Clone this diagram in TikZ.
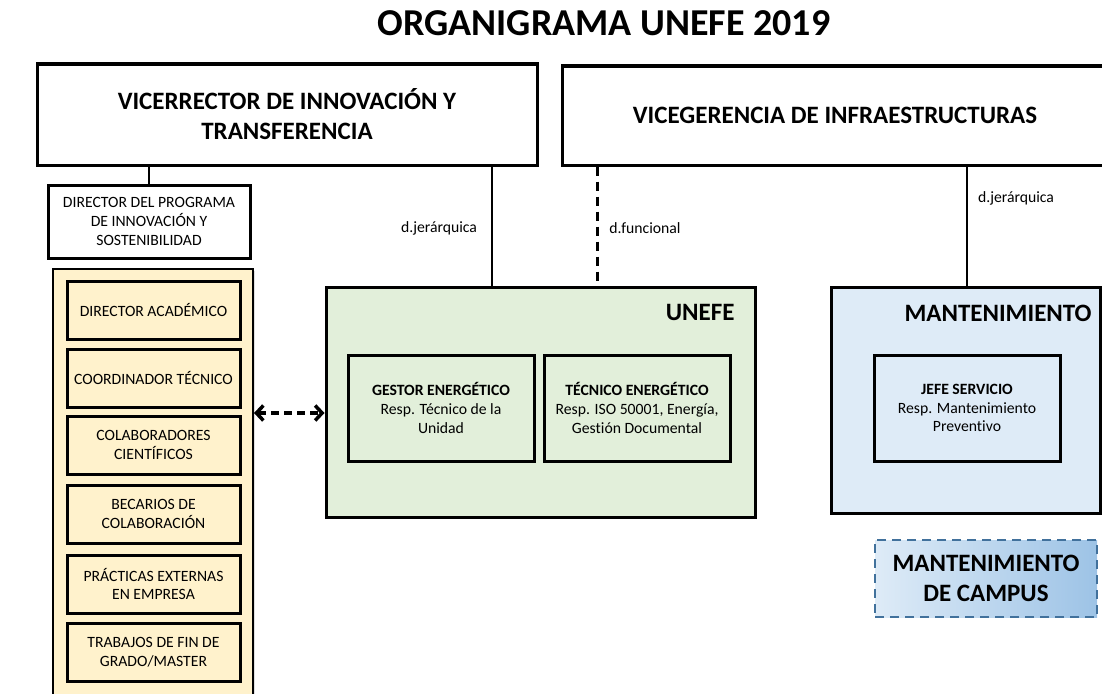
\documentclass[tikz,border=0pt]{standalone}
\usepackage{fontspec}
\setmainfont{Carlito}[Ligatures=NoCommon]
\usetikzlibrary{arrows.meta,shadows}
\definecolor{amarillo}{HTML}{FFF2CC}
\definecolor{verde}{HTML}{E2EFDA}
\definecolor{azul}{HTML}{DEEBF7}
\definecolor{azulosc}{HTML}{9DC3E6}
\definecolor{borde}{HTML}{41719C}
\tikzset{
  caja/.style={draw, line width=3pt, fill=white, align=center, inner sep=2pt,
    drop shadow={opacity=0.25, shadow xshift=2pt, shadow yshift=-2pt}},
  grande/.style={font=\fontsize{25}{30}\selectfont\bfseries},
  chica/.style={font=\fontsize{15.7}{18.8}\selectfont},
  cabecera/.style={caja, grande},
  puesto/.style={caja, chica, fill=amarillo, minimum width=173pt, minimum height=58pt},
  cargo/.style={caja, chica, minimum width=186pt, minimum height=106pt},
  linea/.style={line width=2.3pt},
  funcional/.style={line width=3pt, dash pattern=on 9pt off 6pt}
}
\begin{document}
\begin{tikzpicture}[x=1pt,y=-1pt]
\useasboundingbox (0,0) rectangle (1102,693);
\clip (0,0) rectangle (1102,693);
\node[font=\fontsize{38}{44}\selectfont\bfseries] (titulo) at (604,23) {ORGANIGRAMA UNEFE 2019};
\node[cabecera, minimum width=500pt, minimum height=101pt] (vic) at (287,114.5) {VICERRECTOR DE INNOVACIÓN Y\\TRANSFERENCIA};
\node[cabecera, minimum width=546pt, minimum height=99pt] (vge) at (835,115.5) {VICEGERENCIA DE INFRAESTRUCTURAS};
\node[caja, chica, minimum width=202pt, minimum height=73pt] (dir) at (149,221.5) {DIRECTOR DEL PROGRAMA\\DE INNOVACIÓN Y\\SOSTENIBILIDAD};
% grupo de colaboradores
\node[caja, fill=amarillo, line width=2pt, minimum width=200pt, minimum height=436pt] (grupo) at (153,487) {};
\node[puesto] (acad) at (153.5,310) {DIRECTOR ACADÉMICO};
\node[puesto] (coord) at (153.5,378) {COORDINADOR TÉCNICO};
\node[puesto] (colab) at (153.5,445) {COLABORADORES\\CIENTÍFICOS};
\node[puesto] (becas) at (153.5,514) {BECARIOS DE\\COLABORACIÓN};
\node[puesto] (pract) at (153.5,584) {PRÁCTICAS EXTERNAS\\EN EMPRESA};
\node[puesto] (tfg) at (153.5,652) {TRABAJOS DE FIN DE\\GRADO/MASTER};
% unidades
\node[caja, fill=verde, minimum width=429pt, minimum height=230pt] (unefe) at (540.5,402) {};
\node[grande, anchor=east] (unefet) at (738,312) {UNEFE};
\node[cargo, fill=verde] (gestor) at (441,408) {\textbf{GESTOR ENERGÉTICO}\\Resp. Técnico de la\\Unidad};
\node[cargo, fill=verde] (tecnico) at (637,408) {\textbf{TÉCNICO ENERGÉTICO}\\Resp. ISO 50001, Energía,\\Gestión Documental};
\node[caja, fill=azul, minimum width=269pt, minimum height=226pt] (mant) at (965.5,400) {};
\node[grande] (mantt) at (998,313) {MANTENIMIENTO};
\node[cargo, fill=azul] (jefe) at (967,408) {\textbf{JEFE SERVICIO}\\Resp. Mantenimiento\\Preventivo};
\node[grande, draw=borde, line width=2.5pt, dash pattern=on 9pt off 6pt, left color=azul, right color=azulosc,
  align=center, minimum width=222pt, minimum height=77pt] (campus) at (986,578.5) {MANTENIMIENTO\\DE CAMPUS};
% dependencias
\coordinate (cj) at (492,250);
\coordinate (cf) at (597,250);
\coordinate (flecha) at (290,413);
\draw[linea] (vic.south -| dir.north) -- (dir.north);
\draw[linea] (vic.south -| cj) -- (unefe.north -| cj);
\draw[funcional] (vge.south -| cf) -- (unefe.north -| cf);
\draw[linea] (vge.south -| jefe.north) -- (mant.north -| jefe.north);
\draw[line width=3.5pt, dash pattern=on 8pt off 5pt, {Straight Barb[length=7pt,width=15pt]}-{Straight Barb[length=7pt,width=15pt]}]
  (grupo.east |- flecha) -- (unefe.west |- flecha);
\node[chica] (lj1) at (439,228) {d.jerárquica};
\node[chica] (lf) at (645,228) {d.funcional};
\node[chica] (lj2) at (1016,198) {d.jerárquica};
\end{tikzpicture}
\end{document}
